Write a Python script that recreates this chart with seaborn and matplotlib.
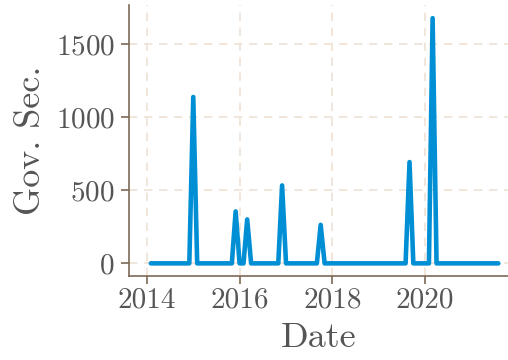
import numpy as np
import pandas as pd
import matplotlib
matplotlib.use("Agg")
import matplotlib.pyplot as plt
import matplotlib.dates as mdates
import seaborn as sns

# Monthly values, Feb 2014 .. Aug 2021
months = pd.date_range("2014-02-01", "2021-08-01", freq="MS")
vals_2014 = [0] * 11                                          # Feb..Dec
vals_2015 = [1140, 0, 0, 0, 0, 0, 0, 0, 0, 0, 0, 356]
vals_2016 = [0, 0, 301, 0, 0, 0, 0, 0, 0, 0, 0, 534]
vals_2017 = [0, 0, 0, 0, 0, 0, 0, 0, 0, 264, 0, 0]
vals_2018 = [0] * 12
vals_2019 = [0, 0, 0, 0, 0, 0, 0, 0, 694, 0, 0, 0]
vals_2020 = [0, 0, 1680, 0, 0, 0, 0, 0, 0, 0, 0, 0]
vals_2021 = [0] * 8                                           # Jan..Aug

gov_sec = vals_2014 + vals_2015 + vals_2016 + vals_2017 + vals_2018 + vals_2019 + vals_2020 + vals_2021
df = pd.DataFrame({"Date": months, "Gov. Sec.": gov_sec})

sns.set_style("white")
plt.rcParams["font.family"] = ["cmr10", "DejaVu Serif"]
plt.rcParams["mathtext.fontset"] = "cm"
plt.rcParams["axes.formatter.use_mathtext"] = True

spine_col = "#7d6a56"
text_col = "#555555"
grid_col = "#efe2d6"

fig = plt.figure(figsize=(5.08, 3.6), dpi=100)
ax = fig.add_axes([0.2545, 0.234, 0.7455, 0.752])

sns.lineplot(data=df, x="Date", y="Gov. Sec.", ax=ax, color="#008fd5",
             linewidth=3.3, solid_capstyle="round", solid_joinstyle="round", zorder=3)

ax.set_xlim(pd.Timestamp("2013-08-15"), pd.Timestamp("2021-10-16"))
ax.set_ylim(-85, 1770)
ax.set_yticks([0, 500, 1000, 1500])
ax.xaxis.set_major_locator(mdates.YearLocator(2))
ax.xaxis.set_major_formatter(mdates.DateFormatter("%Y"))

ax.grid(True, color=grid_col, linestyle=(0, (5, 4)), linewidth=1.2, zorder=0)
for side in ["top", "right"]:
    ax.spines[side].set_visible(False)
for side in ["left", "bottom"]:
    ax.spines[side].set_color(spine_col)
    ax.spines[side].set_linewidth(1.2)

ax.tick_params(axis="both", which="major", direction="out", length=5.5, width=1.2,
               color=spine_col, labelcolor=text_col, labelsize=21, bottom=True, left=True)
ax.tick_params(axis="y", pad=5)
ax.tick_params(axis="x", pad=3)

ax.set_xlabel("Date", fontsize=26, color=text_col, labelpad=6)
ax.set_ylabel("Gov. Sec.", fontsize=26, color=text_col, labelpad=6)

fig.savefig("out.png", dpi=100)
